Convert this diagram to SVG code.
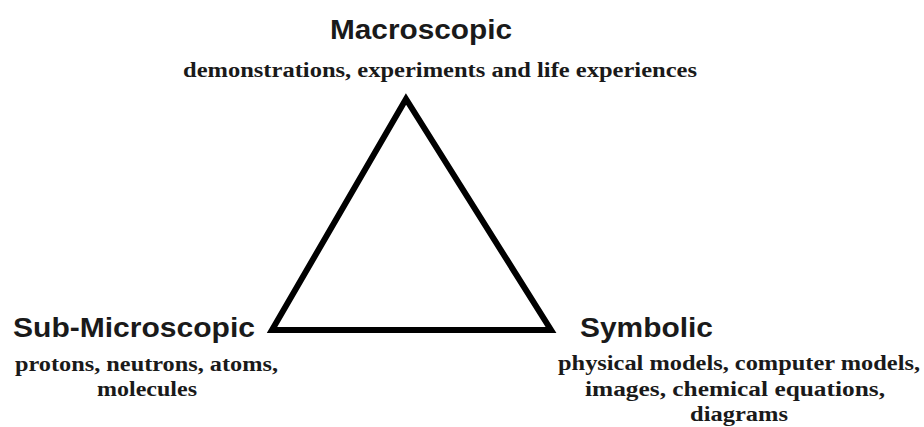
<svg xmlns="http://www.w3.org/2000/svg" width="924" height="427" viewBox="0 0 924 427">
<style>
.h{font-family:"Liberation Sans",Arial,sans-serif;font-weight:bold;font-size:27px;fill:#1a1a1a}
.s{font-family:"Liberation Serif","Times New Roman",serif;font-weight:bold;font-size:20px;fill:#1a1a1a}
</style>
<rect width="924" height="427" fill="#fff"/>
<g id="connectors">
<polygon points="406,99 272,330 551,330" fill="none" stroke="#000" stroke-width="6" stroke-linejoin="miter"/>
</g>
<g id="macroscopic">
<text class="h" x="330" y="39" textLength="182" lengthAdjust="spacingAndGlyphs">Macroscopic</text>
<text class="s" x="183" y="77" textLength="514" lengthAdjust="spacingAndGlyphs">demonstrations, experiments and life experiences</text>
</g>
<g id="submicroscopic">
<text class="h" x="13" y="337" textLength="242" lengthAdjust="spacingAndGlyphs">Sub-Microscopic</text>
<text class="s" x="15" y="371" textLength="263" lengthAdjust="spacingAndGlyphs">protons, neutrons, atoms,</text>
<text class="s" x="97" y="396" textLength="100" lengthAdjust="spacingAndGlyphs">molecules</text>
</g>
<g id="symbolic">
<text class="h" x="580" y="337" textLength="133" lengthAdjust="spacingAndGlyphs">Symbolic</text>
<text class="s" x="558" y="370" textLength="362" lengthAdjust="spacingAndGlyphs">physical models, computer models,</text>
<text class="s" x="585" y="396" textLength="300" lengthAdjust="spacingAndGlyphs">images, chemical equations,</text>
<text class="s" x="690" y="421" textLength="98" lengthAdjust="spacingAndGlyphs">diagrams</text>
</g>
</svg>
